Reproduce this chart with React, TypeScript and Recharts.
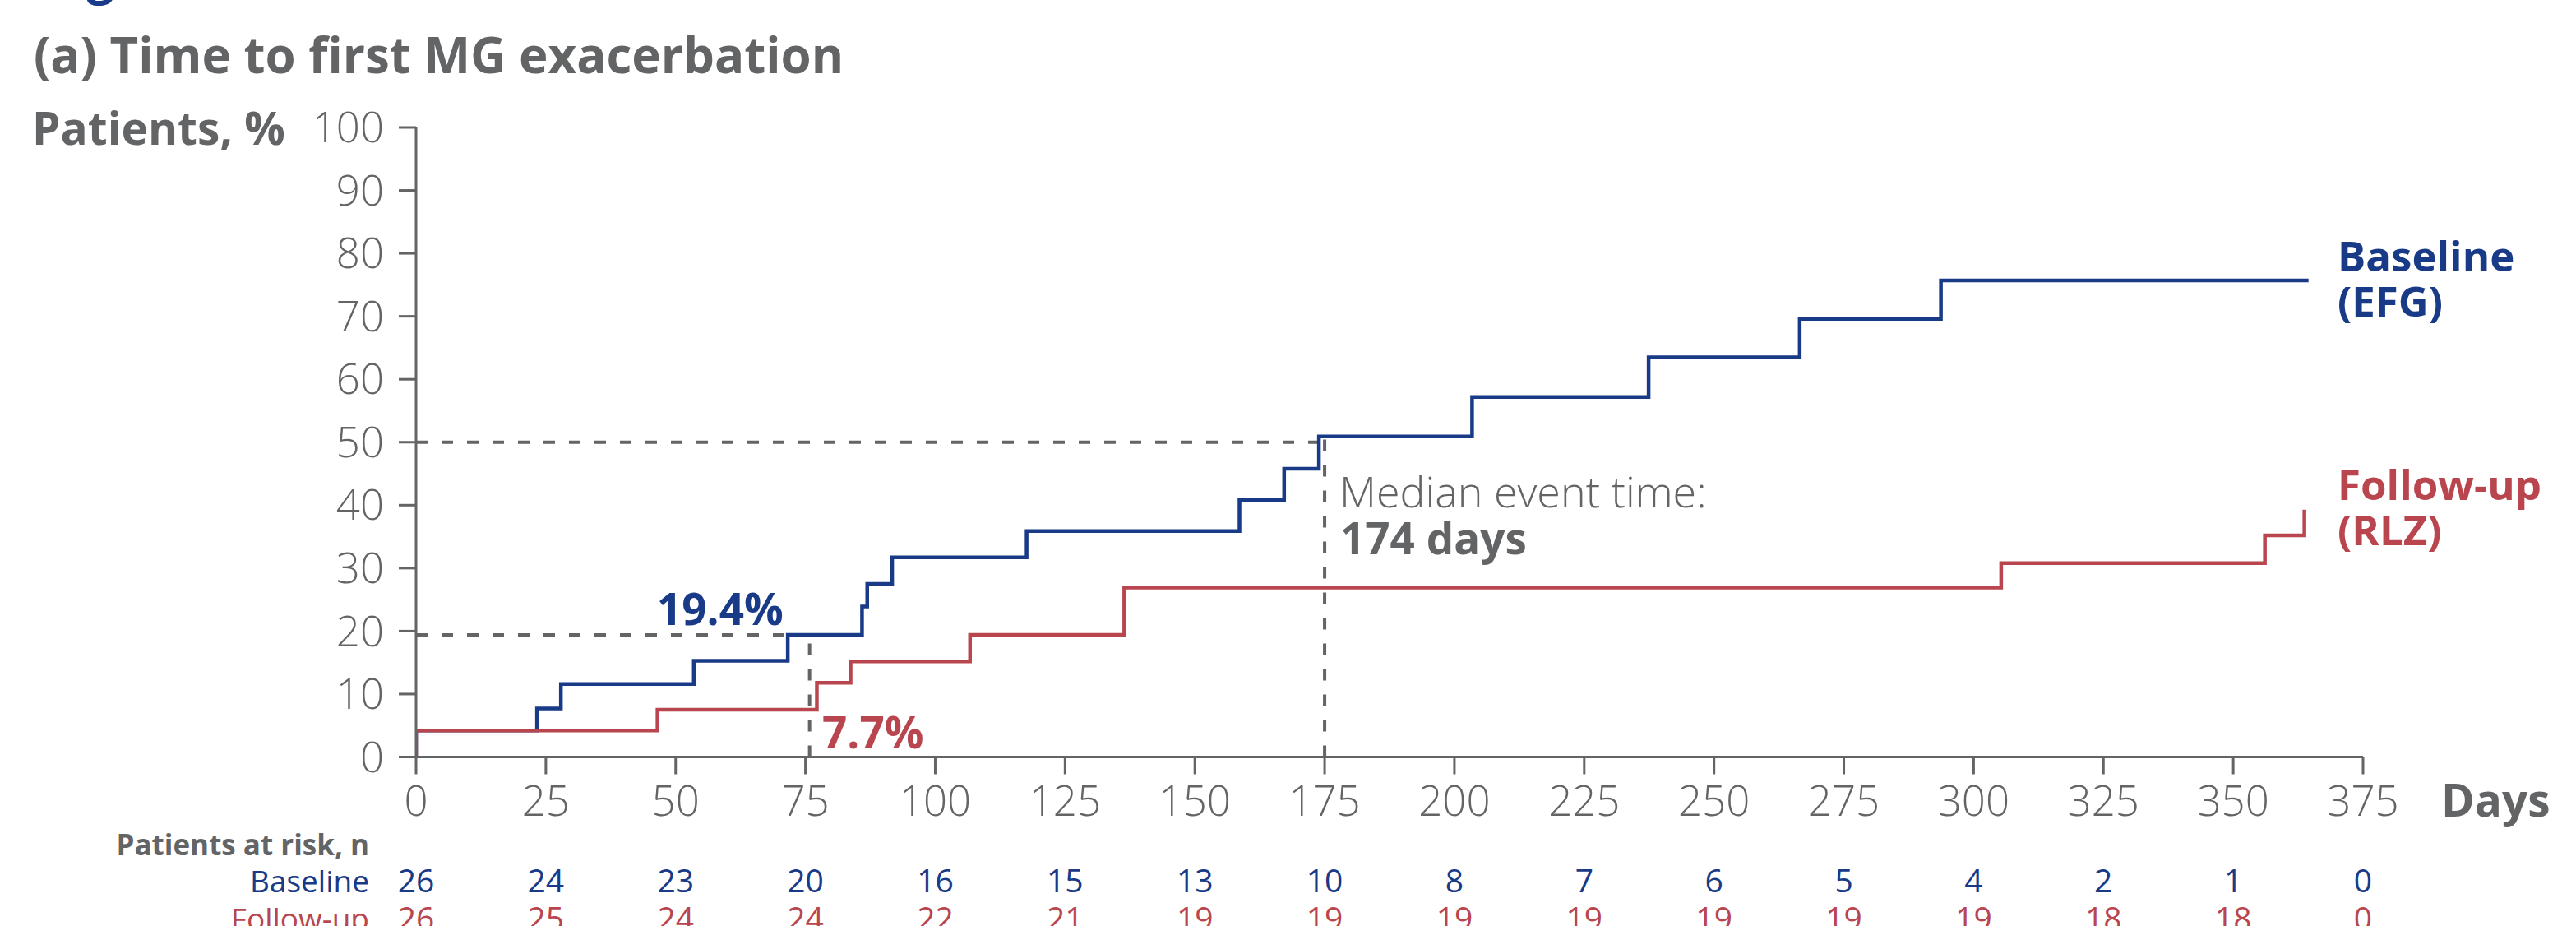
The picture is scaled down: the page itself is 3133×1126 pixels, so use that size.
import React from 'react';
import { LineChart, Line, XAxis, YAxis, ReferenceLine } from 'recharts';

// Kaplan-Meier style cumulative curves
const baselineDays = [0, 0, 23.3, 27.9, 53.5, 71.6, 85.9, 86.9, 91.7, 117.6, 158.6, 167.2, 173.9, 203.4, 237.4, 266.5, 293.7, 364.5];
const baselinePct = [0, 4.2, 7.7, 11.6, 15.3, 19.4, 23.9, 27.5, 31.7, 35.9, 40.8, 45.8, 50.9, 57.2, 63.5, 69.6, 75.7, 75.7];

const followDays = [0, 0, 46.5, 77.2, 83.7, 106.7, 136.4, 305.3, 356.1, 363.7];
const followPct = [0, 4.2, 7.5, 11.8, 15.2, 19.4, 26.9, 30.8, 35.2, 39.3];

const xTicks = [0, 25, 50, 75, 100, 125, 150, 175, 200, 225, 250, 275, 300, 325, 350, 375];
const yTicks = [0, 10, 20, 30, 40, 50, 60, 70, 80, 90, 100];

const baselineRisk = [26, 24, 23, 20, 16, 15, 13, 10, 8, 7, 6, 5, 4, 2, 1, 0];
const followRisk = [26, 25, 24, 24, 22, 21, 19, 19, 19, 19, 19, 19, 19, 18, 18, 0];

const NAVY = '#183a87';
const RED = '#b9464f';
const GREY = '#636466';
const FONT = '"Open Sans", Lato, sans-serif';

const W = 3133;
const H = 1126;
const PLOT_LEFT = 506;
const PLOT_RIGHT = 2874;
const X_MAX = 375;

const baselineData = baselineDays.map((d, i) => ({ day: d, pct: baselinePct[i] }));
const followData = followDays.map((d, i) => ({ day: d, pct: followPct[i] }));

const dash = { stroke: GREY, strokeWidth: 4, strokeDasharray: '14 17' };

function xAt(day: number) {
  return PLOT_LEFT + (day / X_MAX) * (PLOT_RIGHT - PLOT_LEFT);
}

export default function App() {
  return (
    <div style={{ position: 'absolute', left: 0, top: 0, width: W, height: H, background: '#fff' }}>
      <LineChart
        width={W}
        height={H}
        margin={{ top: 155, right: W - PLOT_RIGHT, bottom: 105.5, left: PLOT_LEFT - 120 }}
      >
        <XAxis
          type="number"
          dataKey="day"
          domain={[0, X_MAX]}
          ticks={xTicks}
          height={100}
          tickSize={21}
          tickMargin={14}
          axisLine={{ stroke: GREY, strokeWidth: 3 }}
          tickLine={{ stroke: GREY, strokeWidth: 3 }}
          tick={{ fill: GREY, fontSize: 51, fontFamily: FONT, fontWeight: 300 }}
          allowDataOverflow
        />
        <YAxis
          type="number"
          domain={[0, 100]}
          ticks={yTicks}
          width={120}
          tickSize={21}
          tickMargin={18}
          axisLine={{ stroke: GREY, strokeWidth: 3 }}
          tickLine={{ stroke: GREY, strokeWidth: 3 }}
          tick={{ fill: GREY, fontSize: 51, fontFamily: FONT, fontWeight: 300 }}
          allowDataOverflow
        />
        <ReferenceLine segment={[{ x: 0, y: 50 }, { x: 173.9, y: 50 }]} {...dash} />
        <ReferenceLine segment={[{ x: 175, y: 0 }, { x: 175, y: 50.9 }]} {...dash} />
        <ReferenceLine segment={[{ x: 0, y: 19.4 }, { x: 71.6, y: 19.4 }]} {...dash} />
        <ReferenceLine segment={[{ x: 75.8, y: 0 }, { x: 75.8, y: 19.4 }]} {...dash} />
        <Line
          data={baselineData}
          dataKey="pct"
          type="stepAfter"
          stroke={NAVY}
          strokeWidth={4.5}
          dot={false}
          activeDot={false}
          isAnimationActive={false}
        />
        <Line
          data={followData}
          dataKey="pct"
          type="stepAfter"
          stroke={RED}
          strokeWidth={4.5}
          dot={false}
          activeDot={false}
          isAnimationActive={false}
        />
      </LineChart>

      <svg
        width={W}
        height={H}
        style={{ position: 'absolute', left: 0, top: 0, pointerEvents: 'none' }}
        fontFamily={FONT}
      >
        <text x={54} y={-8} fontSize={60} fontWeight={700} fill={NAVY}>Figure</text>
        <text x={41} y={89} fontSize={60} fontWeight={700} fill={GREY}>(a) Time to first MG exacerbation</text>
        <text x={39} y={176} fontSize={55} fontWeight={700} fill={GREY}>Patients, %</text>

        <text x={2969} y={993} fontSize={55} fontWeight={700} fill={GREY}>Days</text>

        <text x={799} y={760} fontSize={53} fontWeight={700} fill={NAVY}>19.4%</text>
        <text x={1000} y={910} fontSize={53} fontWeight={700} fill={RED}>7.7%</text>

        <text x={1629} y={617} fontSize={52} fontWeight={300} fill={GREY}>Median event time:</text>
        <text x={1630} y={674} fontSize={53} fontWeight={700} fill={GREY}>174 days</text>

        <text x={2843} y={330} fontSize={51} fontWeight={700} fill={NAVY}>Baseline</text>
        <text x={2843} y={385} fontSize={51} fontWeight={700} fill={NAVY}>(EFG)</text>
        <text x={2843} y={608} fontSize={51} fontWeight={700} fill={RED}>Follow-up</text>
        <text x={2843} y={663} fontSize={51} fontWeight={700} fill={RED}>(RLZ)</text>

        <text x={449} y={1040} fontSize={35} fontWeight={700} fill={GREY} textAnchor="end">Patients at risk, n</text>
        <text x={449} y={1085} fontSize={37} fill={NAVY} textAnchor="end">Baseline</text>
        <text x={449} y={1131} fontSize={37} fill={RED} textAnchor="end">Follow-up</text>
        {xTicks.map((t, i) => (
          <g key={t}>
            <text x={xAt(t)} y={1085} fontSize={39} fill={NAVY} textAnchor="middle">{baselineRisk[i]}</text>
            <text x={xAt(t)} y={1131} fontSize={39} fill={RED} textAnchor="middle">{followRisk[i]}</text>
          </g>
        ))}
      </svg>
    </div>
  );
}
